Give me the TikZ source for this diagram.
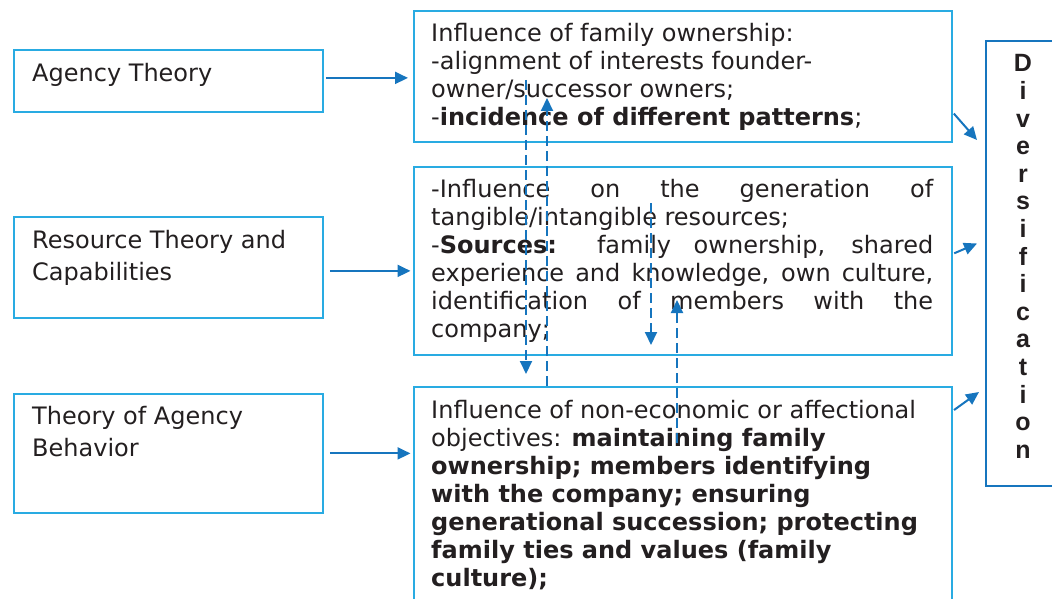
\documentclass[tikz,border=0pt]{standalone}
\usepackage{fontspec}
\setmainfont{DejaVu Sans}
\newfontfamily\divfont{Liberation Sans}[BoldFont={Liberation Sans Bold}]
\usetikzlibrary{arrows.meta}
\definecolor{boxc}{RGB}{41,171,226}
\definecolor{arrc}{RGB}{22,117,190}
\definecolor{txtc}{RGB}{35,31,32}
\begin{document}
\begin{tikzpicture}[x=1pt,y=-1pt,
  box/.style={draw=boxc, line width=1.8pt, inner sep=0pt, anchor=north west},
  dbox/.style={draw=arrc, line width=1.8pt, inner sep=0pt, anchor=north west},
  txt/.style={inner sep=0pt, anchor=base west, text=txtc, font=\fontsize{24}{28}\selectfont},
  dtxt/.style={inner sep=0pt, anchor=base, text=txtc, font=\divfont\bfseries\fontsize{25}{27.6}\selectfont},
  arr/.style={draw=arrc, line width=2pt, -{Triangle[length=13pt,width=12pt]}},
  darr/.style={arr, dash pattern=on 10pt off 5pt}]
\useasboundingbox (0,0) rectangle (1052,599);
\clip (0,0) rectangle (1052,599);
% left boxes
\node[box, minimum width=309, minimum height=62] (l1) at (13,49) {};
\node[box, minimum width=309, minimum height=101] (l2) at (13,216) {};
\node[box, minimum width=309, minimum height=119] (l3) at (13,393) {};
% middle boxes
\node[box, minimum width=538, minimum height=131] (m1) at (413,10) {};
\node[box, minimum width=538, minimum height=188] (m2) at (413,166) {};
\node[box, minimum width=538, minimum height=240] (m3) at (413,386) {};
% right box
\node[dbox, minimum width=90, minimum height=445] (d) at (985,40) {};
% texts
\node[txt] (tl1) at (32,82) {Agency Theory};
\node[txt] (tl2) at (32,248) {\parbox[t]{285pt}{\fontsize{24}{32}\selectfont Resource Theory and\\Capabilities}};
\node[txt] (tl3) at (32,424) {\parbox[t]{285pt}{\fontsize{24}{32}\selectfont Theory of Agency\\Behavior}};
\node[txt] (t1) at (431,42) {\parbox[t]{502pt}{\raggedright Influence of family ownership:\\-alignment of interests founder-\\owner/successor owners;\\-\textbf{incidence of different patterns};}};
\node[txt] (t2) at (431,197) {\parbox[t]{502pt}{\makebox[502pt][s]{-Influence on the generation of}\\tangible/intangible resources;\\\makebox[502pt][s]{-\textbf{Sources:} family ownership, shared}\\\makebox[502pt][s]{experience and knowledge, own culture,}\\\makebox[502pt][s]{identification of members with the}\\company;}};
\node[txt] (t3) at (431,418) {\parbox[t]{502pt}{\raggedright Influence of non-economic or affectional\\objectives: \textbf{maintaining family\\ownership; members identifying\\with the company; ensuring\\generational succession; protecting\\family ties and values (family\\culture);}}};
\node[dtxt] (dv) at (1023,72) {\parbox[t]{30pt}{\centering D\\i\\v\\e\\r\\s\\i\\f\\i\\c\\a\\t\\i\\o\\n}};
% horizontal arrows
\draw[arr, shorten <=2pt, shorten >=5pt] ([yshift=3pt]l1.east) -- ([yshift=3pt]l1.east -| m1.west);
\draw[arr, shorten <=6pt, shorten >=2.5pt] ([yshift=-3.5pt]l2.east) -- ([yshift=-3.5pt]l2.east -| m2.west);
\draw[arr, shorten <=6pt, shorten >=2.5pt] (l3.east) -- (l3.east -| m3.west);
% diagonal arrows to Diversification
\coordinate (p1) at (977,140);
\coordinate (p2) at (977,243.5);
\coordinate (p3) at (979,392);
\draw[arr, shorten <=1.5pt] ([yshift=-36pt]m1.east) -- (p1);
\draw[arr, shorten <=1.5pt] ([yshift=7pt]m2.east) -- (p2);
\draw[arr, shorten <=1.5pt] ([yshift=96pt]m3.east) -- (p3);
% dashed arrows
\coordinate (a1) at (526,80);
\coordinate (a2) at (526,374);
\coordinate (b2) at (547,98);
\coordinate (c1) at (651,203);
\coordinate (c2) at (651,345);
\coordinate (d1) at (677,443);
\coordinate (d2) at (677,300);
\draw[darr] (a1) -- (a2);
\draw[darr] ([xshift=134pt]m3.north west) -- (b2);
\draw[darr] (c1) -- (c2);
\draw[darr] (d1) -- (d2);
\end{tikzpicture}
\end{document}
